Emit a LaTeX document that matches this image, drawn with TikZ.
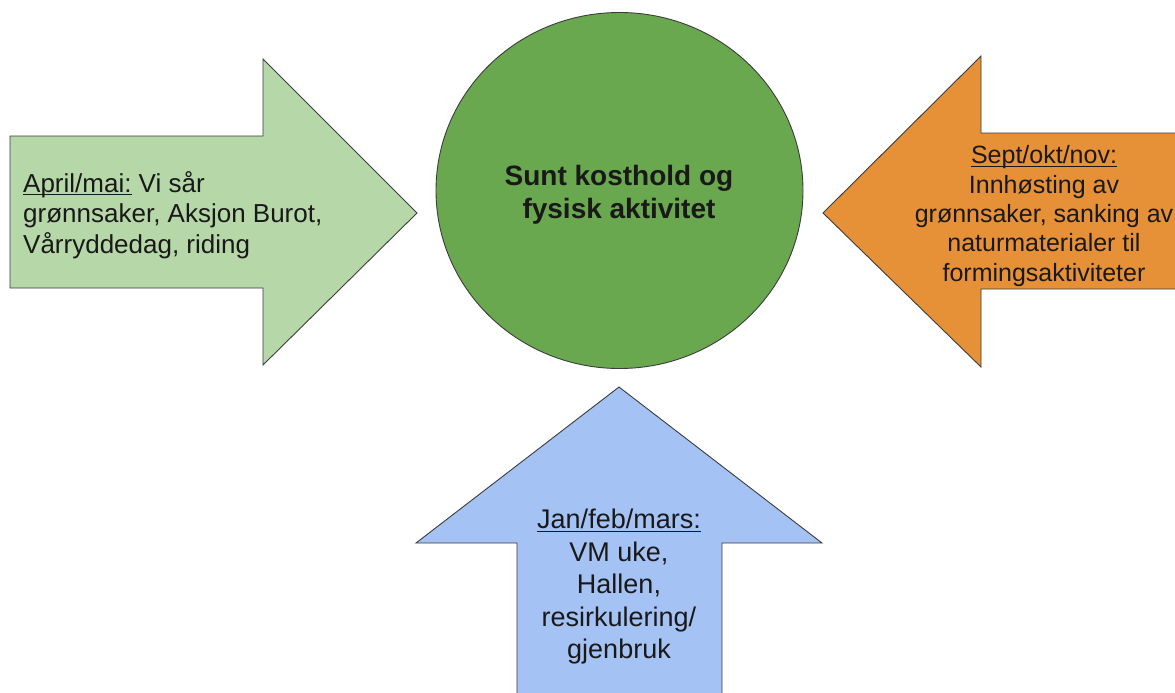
\documentclass[tikz,border=0pt]{standalone}
\usepackage{fontspec}
\usetikzlibrary{shapes.geometric}
\setmainfont{Liberation Sans}
\definecolor{lgreen}{HTML}{B6D7A8}
\definecolor{dgreen}{HTML}{6AA84F}
\definecolor{orng}{HTML}{E69138}
\definecolor{lblue}{HTML}{A4C2F4}
\definecolor{edge}{HTML}{3C3C3C}
\newcommand\myul[1]{\setbox0\hbox{#1}\rlap{\rule[-2.8pt]{\wd0}{1.1pt}}\box0\relax}
\tikzset{
  shapebox/.style={draw=edge, line width=0.9pt, line join=miter},
  txt/.style={inner sep=0pt, text=black!90}
}
\begin{document}
\begin{tikzpicture}[x=1pt,y=-1pt]
\useasboundingbox (0,0) rectangle (1175,693);
\fill[white] (0,0) rectangle (1175,693);
% left arrow (green)
\draw[shapebox, fill=lgreen] (10,136) -- (263,136) -- (263,59) -- (417,213) -- (263,365) -- (263,288) -- (10,288) -- cycle;
% right arrow (orange)
\draw[shapebox, fill=orng] (1180,133) -- (981,133) -- (981,56) -- (823,213) -- (981,367) -- (981,289) -- (1180,289) -- cycle;
% bottom arrow (blue)
\draw[shapebox, fill=lblue] (517,700) -- (517,543) -- (416,543) -- (619,387) -- (822,543) -- (722,543) -- (722,700) -- cycle;
% circle
\node[shapebox, fill=dgreen, ellipse, minimum width=367pt, minimum height=356pt, inner sep=0pt] (circ) at (619.5,190.5) {};
\node[txt, align=center, font=\fontsize{28}{33.5}\selectfont\bfseries] (ctext) at (619,195) {Sunt kosthold og\\fysisk aktivitet};
\node[txt, align=left, anchor=west, font=\fontsize{26}{30.5}\selectfont] (ltext) at (23,215) {\myul{April/mai:} Vi sår\\grønnsaker, Aksjon Burot,\\Vårryddedag, riding};
\node[txt, align=center, font=\fontsize{25}{29.3}\selectfont] (rtext) at (1044,216) {\myul{Sept/okt/nov:}\\Innhøsting av\\grønnsaker, sanking av\\naturmaterialer til\\formingsaktiviteter};
\node[txt, align=center, font=\fontsize{27}{32.5}\selectfont] (btext) at (619,587) {\myul{Jan/feb/mars:}\\VM uke,\\Hallen,\\resirkulering/\\gjenbruk};
\end{tikzpicture}
\end{document}
